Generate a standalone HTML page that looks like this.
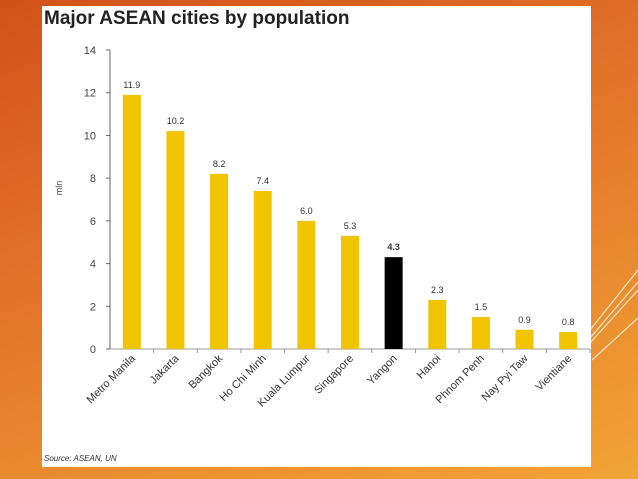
<!DOCTYPE html>
<html><head><style>
body{margin:0;width:638px;height:479px;overflow:hidden;background:linear-gradient(160deg,#d2521a 0%,#e3762a 45%,#f2a435 100%);font-family:"Liberation Sans",sans-serif;}
#panel{position:absolute;left:42px;top:6px;width:549px;height:461px;background:#fff;}
</style></head><body>
<svg width="638" height="479" style="position:absolute;left:0;top:0">
<g stroke="#fbe3c8" stroke-width="1.2" fill="none">
<line x1="590" y1="330" x2="638" y2="270"/><line x1="590" y1="338" x2="638" y2="282"/>
<line x1="590" y1="343" x2="638" y2="290"/><line x1="592" y1="360" x2="638" y2="318"/>
</g></svg>
<div id="panel"></div>
<svg id="chart" width="638" height="479" style="position:absolute;left:0;top:0">
<text x="44" y="24" font-size="19" font-weight="bold" fill="#222">Major ASEAN cities by population</text>
<text transform="translate(62,188) rotate(-90)" font-size="9" fill="#444" text-anchor="middle">mln</text>
<text x="44" y="461" font-size="8" font-style="italic" fill="#333">Source: ASEAN, UN</text>
<g id="g"></g>
</svg>
<script>
const categories=["Metro Manila","Jakarta","Bangkok","Ho Chi Minh","Kuala Lumpur","Singapore","Yangon","Hanoi","Phnom Penh","Nay Pyi Taw","Vientiane"];
const values=[11.9,10.2,8.2,7.4,6.0,5.3,4.3,2.3,1.5,0.9,0.8];
const labels=["11.9","10.2","8.2","7.4","6.0","5.3","4.3","2.3","1.5","0.9","0.8"];
const yTicks=[0,2,4,6,8,10,12,14];
const highlight="Yangon";
const g=document.getElementById('g');const ns="http://www.w3.org/2000/svg";
const x0=110,x1=590,y0=349,y1=50,ymax=14;
const step=(x1-x0)/categories.length;
const y=v=>y0-(v/ymax)*(y0-y1);
const xc=i=>x0+step*(i+0.5);
function mk(t,a){const e=document.createElementNS(ns,t);for(const k in a)e.setAttribute(k,a[k]);g.appendChild(e);return e;}
let ax=mk('line',{x1:x0,y1:y1,x2:x0,y2:y0,stroke:'#666','stroke-width':1});


let bx=mk('line',{x1:x0,y1:y0,x2:x1,y2:y0,stroke:'#999','stroke-width':1});


yTicks.forEach(t=>{
 mk('line',{x1:x0-4,y1:y(t),x2:x0,y2:y(t),stroke:'#666'});
 let tx=mk('text',{x:x0-14,y:y(t)+4,'font-size':11,fill:'#444','text-anchor':'end'});tx.textContent=t;
 
 
});
categories.forEach((c,i)=>{
 const cx=xc(i),w=18;
 mk('line',{x1:x0+step*(i+1),y1:y0,x2:x0+step*(i+1),y2:y0+4,stroke:'#999'});
 let r=mk('rect',{x:cx-w/2,y:y(values[i]),width:w,height:y0-y(values[i]),fill:c===highlight?'#000':'#f0c400'});
 
 
 let v=mk('text',{x:cx,y:y(values[i])-7,'font-size':9,fill:'#333','text-anchor':'middle','font-weight':c===highlight?'bold':'normal'});v.textContent=labels[i];
 
 
 let l=mk('text',{transform:`translate(${cx+4},${y0+10}) rotate(-45)`,'font-size':11,fill:'#333','text-anchor':'end'});l.textContent=c;
 
 
});
</script>
</body></html>
